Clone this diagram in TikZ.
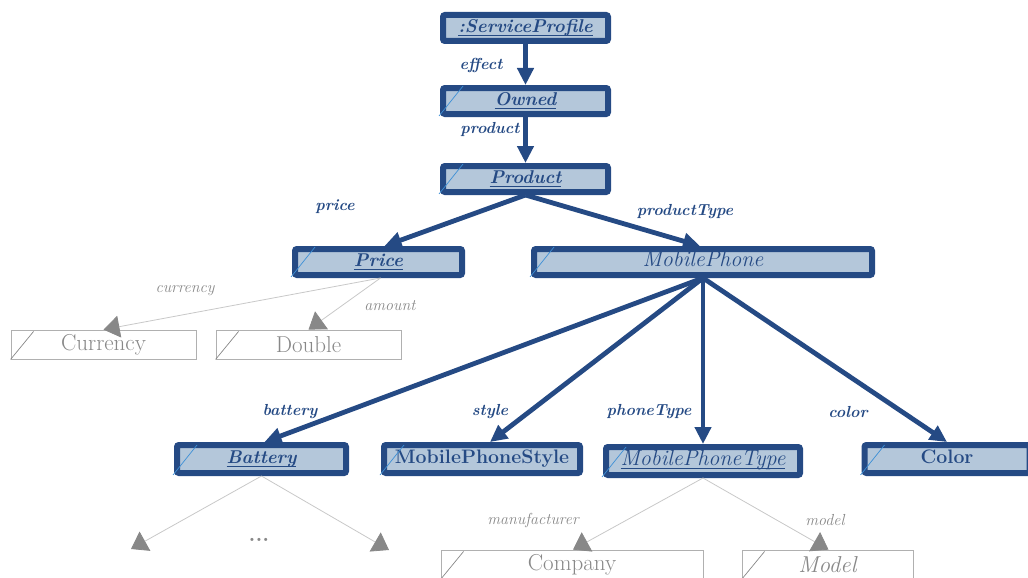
\documentclass[tikz,border=0pt]{standalone}
\usepackage{fontspec}
\usetikzlibrary{arrows.meta}
\definecolor{db}{HTML}{254A84}
\definecolor{lb}{HTML}{B4C7DA}
\definecolor{dg}{HTML}{3C8FD6}
\definecolor{gt}{HTML}{888888}
\definecolor{gl}{HTML}{C8C8C8}
\definecolor{gb}{HTML}{B0B0B0}
\newcommand\myul[1]{\setbox0\hbox{#1}\rlap{\rule[-3.6pt]{\wd0}{0.9pt}}\box0}
\tikzset{
  bbox/.style={draw=db, line width=6pt, fill=lb, rounded corners=2pt, inner sep=0pt, text=db, text height=13pt, text depth=4.5pt},
  bi/.style={font=\fontsize{18.5}{22}\selectfont\bfseries\itshape},
  ri/.style={font=\fontsize{22}{22}\selectfont\itshape},
  bu/.style={font=\fontsize{19.5}{22}\selectfont\bfseries},
  gbox/.style={draw=gb, line width=0.8pt, fill=white, inner sep=0pt, text=gt, font=\fontsize{23}{24}\selectfont},
  diag/.style={draw=dg, line width=0.7pt},
  gdiag/.style={draw=gt, line width=0.7pt},
  barrow/.style={draw=db, line width=4.8pt, -{Triangle[length=17pt,width=16pt]}},
  garrow/.style={draw=gl, line width=0.8pt, -{Triangle[length=16pt,width=22pt,color=gt,fill=gt]}},
  blab/.style={text=db, font=\fontsize{16}{18}\selectfont\bfseries\itshape},
  glab/.style={text=gt, font=\fontsize{16}{18}\selectfont\itshape},
}
\begin{document}
\begin{tikzpicture}[x=1pt,y=-1pt]
\useasboundingbox (0,0) rectangle (1028,578);
% blue boxes
\node[bbox, bi, minimum width=165pt, minimum height=26pt] (sp) at (525.5,28) {\myul{:ServiceProfile}};
\node[bbox, bi, minimum width=165pt, minimum height=26pt] (ow) at (525.5,101) {\myul{Owned}};
\node[bbox, bi, minimum width=165pt, minimum height=26pt] (pr) at (525.5,179) {\myul{Product}};
\node[bbox, bi, minimum width=167pt, minimum height=26pt] (price) at (378.5,262) {\myul{Price}};
\node[bbox, ri, minimum width=338pt, minimum height=26pt] (mp) at (703,262) {MobilePhone};
\node[bbox, bi, minimum width=169pt, minimum height=28pt] (bat) at (261.5,459) {\myul{Battery}};
\node[bbox, bu, minimum width=196pt, minimum height=28pt] (mps) at (482,459) {MobilePhoneStyle};
\node[bbox, ri, minimum width=194pt, minimum height=28pt] (mpt) at (703,461) {\myul{MobilePhoneType}};
\node[bbox, bu, minimum width=165pt, minimum height=28pt] (col) at (947,459) {Color};
% gray boxes
\node[gbox, minimum width=185pt, minimum height=29pt] (cur) at (103.5,344.5) {Currency};
\node[gbox, minimum width=185pt, minimum height=29pt] (dbl) at (308.5,344.5) {Double};
\node[gbox, minimum width=262pt, minimum height=29pt] (comp) at (572,564.5) {Company};
\node[gbox, minimum width=171pt, minimum height=29pt] (model) at (827.5,564.5) {\itshape Model};
% diagonals
\foreach \n in {ow,pr,price,mp,bat,mps,mpt,col}{
  \draw[diag] ([shift={(-1pt,1pt)}]\n.south west) -- ++(24pt,30pt);
}
\foreach \n in {cur,dbl,comp,model}{
  \draw[gdiag] (\n.south west) -- ++(23pt,28pt);
}
% blue arrows
\draw[barrow] (sp.south) -- (ow.north);
\draw[barrow] (ow.south) -- (pr.north);
\draw[barrow] (pr.south) -- ([xshift=6pt]price.north);
\draw[barrow] (pr.south) -- ([xshift=-3pt]mp.north);
\draw[barrow] (mp.south) -- ([xshift=3pt]bat.north);
\draw[barrow] (mp.south) -- ([xshift=8pt]mps.north);
\draw[barrow] (mp.south) -- (mpt.north);
\draw[barrow] (mp.south) -- (col.north);
% gray arrows
\coordinate (bl) at (131,549);
\coordinate (br) at (389,550);
\draw[garrow] ([xshift=2pt]price.south) -- (cur.north);
\draw[garrow] ([xshift=2pt]price.south) -- (dbl.north);
\draw[garrow] (bat.south) -- (bl);
\draw[garrow] (bat.south) -- (br);
\draw[garrow] (mpt.south) -- ([xshift=1pt]comp.north);
\draw[garrow] (mpt.south) -- ([xshift=1pt]model.north);
% labels
\node[blab] (l1) at (481,66) {effect};
\node[blab] (l2) at (490,129) {product};
\node[blab] (l3) at (335,207) {price};
\node[blab] (l4) at (685,212) {productType};
\node[blab] (l5) at (290,412) {battery};
\node[blab] (l6) at (490,412) {style};
\node[blab] (l7) at (649,412) {phoneType};
\node[blab] (l8) at (848,412) {color};
\node[glab] (g1) at (185,291) {currency};
\node[glab] (g2) at (390,306) {amount};
\node[glab] (g3) at (533,520) {manufacturer};
\node[glab] (g4) at (825,520) {model};
\node[text=gt, font=\fontsize{22}{22}\selectfont\bfseries] (dots) at (259,540) {...};
\end{tikzpicture}
\end{document}
